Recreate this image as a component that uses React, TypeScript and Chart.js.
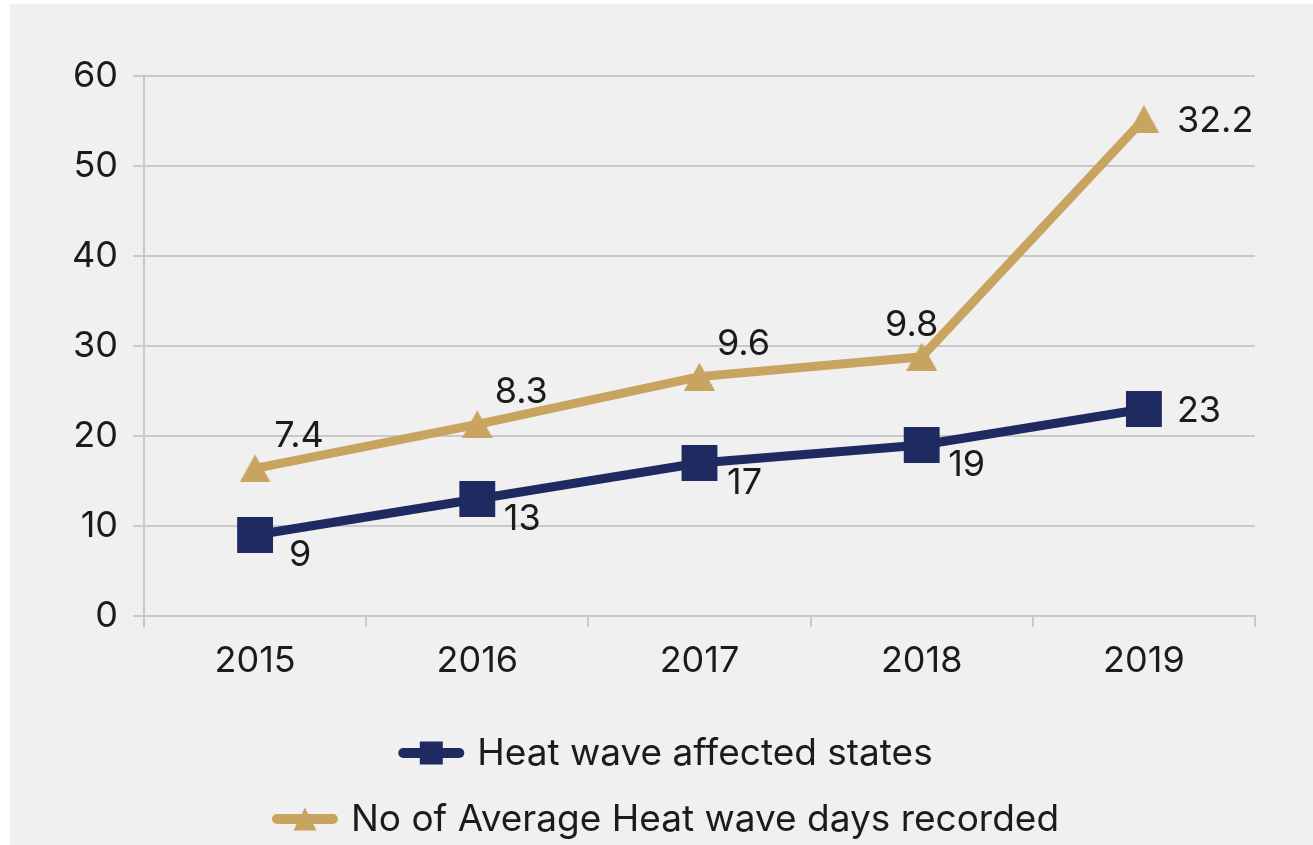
import React, { useEffect, useRef } from 'react';
import { Chart, registerables } from 'chart.js';

Chart.register(...registerables);

// ---- data ----
const years = ['2015', '2016', '2017', '2018', '2019'];
const affectedStates = [9, 13, 17, 19, 23];
const heatWaveDays = [7.4, 8.3, 9.6, 9.8, 32.2];
const seriesNames = ['Heat wave affected states', 'No of Average Heat wave days recorded'];
const yTickValues = [0, 10, 20, 30, 40, 50, 60];

// label placement names (no coordinates)
const affectedPlacement = ['belowRight', 'belowRight', 'belowRight', 'belowRight', 'right'];
const daysPlacement = ['aboveRight', 'aboveRight', 'aboveRight', 'above', 'right'];

const NAVY = '#1f2a60';
const GOLD = '#c9a461';
const GRID = '#c9c9c9';
const TEXT = '#1b1b1b';
const FONT = 'Inter, Lato, sans-serif';

const OFFSETS: Record<string, [number, number, CanvasTextAlign]> = {
  aboveRight: [44, -32, 'center'],
  belowRight: [45, 20, 'center'],
  above: [-10, -32, 'center'],
  right: [33, 2, 'left'],
};

function makeTriangle(w: number, h: number, color: string): HTMLCanvasElement {
  const c = document.createElement('canvas');
  c.width = w;
  c.height = h;
  const g = c.getContext('2d')!;
  g.fillStyle = color;
  g.beginPath();
  g.moveTo(w / 2, 0);
  g.lineTo(w, h);
  g.lineTo(0, h);
  g.closePath();
  g.fill();
  return c;
}

const dataLabelPlugin = {
  id: 'dataLabels',
  afterDatasetsDraw(chart: any) {
    const ctx = chart.ctx;
    ctx.save();
    ctx.font = `36px ${FONT}`;
    ctx.fillStyle = TEXT;
    ctx.textBaseline = 'middle';
    chart.data.datasets.forEach((ds: any, di: number) => {
      const meta = chart.getDatasetMeta(di);
      const placements = ds.placements as string[];
      meta.data.forEach((pt: any, i: number) => {
        const [dx, dy, align] = OFFSETS[placements[i]];
        ctx.textAlign = align;
        ctx.fillText(String(ds.data[i]), pt.x + dx, pt.y + dy);
      });
    });
    ctx.restore();
  },
};

function drawMarker(ctx: CanvasRenderingContext2D, style: string, x: number, y: number, size: number, color: string) {
  ctx.fillStyle = color;
  ctx.beginPath();
  if (style === 'rect') {
    ctx.rect(x - size / 2, y - size / 2, size, size);
  } else {
    const h = size;
    ctx.moveTo(x, y - h / 2);
    ctx.lineTo(x + size / 2, y + h / 2);
    ctx.lineTo(x - size / 2, y + h / 2);
    ctx.closePath();
  }
  ctx.fill();
}

const legendPlugin = {
  id: 'customLegend',
  afterDraw(chart: any) {
    const ctx: CanvasRenderingContext2D = chart.ctx;
    const cx = chart.width / 2 + 4;
    const rowY = [749, 815];
    const lineLen = 66;
    const gap = 13;
    ctx.save();
    ctx.font = `37px ${FONT}`;
    ctx.textBaseline = 'middle';
    ctx.textAlign = 'left';
    chart.data.datasets.forEach((ds: any, di: number) => {
      const tw = ctx.measureText(ds.label).width;
      const total = lineLen + gap + tw;
      const x0 = cx - total / 2;
      const y = rowY[di];
      ctx.strokeStyle = ds.borderColor;
      ctx.lineWidth = 10;
      ctx.lineCap = 'round';
      ctx.beginPath();
      ctx.moveTo(x0 + 5, y);
      ctx.lineTo(x0 + lineLen - 5, y);
      ctx.stroke();
      drawMarker(ctx, ds.legendMarker, x0 + lineLen / 2, y, 23, ds.borderColor);
      ctx.fillStyle = TEXT;
      ctx.fillText(ds.label, x0 + lineLen + gap, y + 1);
    });
    ctx.restore();
  },
};

export default function App() {
  const ref = useRef<HTMLCanvasElement | null>(null);
  useEffect(() => {
    if (!ref.current) return;
    const tri = makeTriangle(31, 28, GOLD);
    const chart = new Chart(ref.current, {
      type: 'line',
      data: {
        labels: years,
        datasets: [
          {
            label: seriesNames[0],
            data: affectedStates,
            borderColor: NAVY,
            backgroundColor: NAVY,
            borderWidth: 9,
            pointStyle: 'rect',
            pointRadius: 19,
            pointHoverRadius: 19,
            fill: false,
            tension: 0,
            placements: affectedPlacement,
            legendMarker: 'rect',
          } as any,
          {
            label: seriesNames[1],
            data: heatWaveDays,
            borderColor: GOLD,
            backgroundColor: GOLD,
            borderWidth: 9,
            pointStyle: tri,
            pointRadius: 15,
            pointHoverRadius: 15,
            fill: false,
            tension: 0,
            placements: daysPlacement,
            legendMarker: 'triangle',
          } as any,
        ],
      },
      options: {
        responsive: false,
        animation: false,
        devicePixelRatio: 1,
        layout: { padding: { left: 0, right: 58, top: 72, bottom: 149 } },
        plugins: {
          legend: { display: false },
          tooltip: { enabled: false },
        },
        scales: {
          x: {
            offset: true,
            grid: {
              display: true,
              drawOnChartArea: false,
              drawTicks: true,
              tickLength: 11,
              color: GRID,
              lineWidth: 2,
              offset: true,
            },
            border: { display: true, color: GRID, width: 2 },
            ticks: { color: TEXT, font: { family: FONT, size: 36 }, padding: 13 },
            afterFit: (s: any) => { s.height = 80; },
          },
          y: {
            stacked: true,
            min: 0,
            max: 60,
            afterBuildTicks: (s: any) => { s.ticks = yTickValues.map((v) => ({ value: v })); },
            grid: { color: GRID, lineWidth: 2, tickLength: 11, drawTicks: true },
            border: { display: true, color: GRID, width: 2 },
            ticks: { color: TEXT, font: { family: FONT, size: 36 }, padding: 15 },
            afterFit: (s: any) => { s.width = 134; },
          },
        },
      },
      plugins: [dataLabelPlugin, legendPlugin],
    });
    return () => chart.destroy();
  }, []);

  return (
    <div style={{ position: 'fixed', left: 0, top: 0, width: 1313, height: 845, background: '#ffffff' }}>
      <div style={{ position: 'absolute', left: 10, top: 4, width: 1303, height: 841, background: '#f0f0f0' }}>
        <canvas ref={ref} width={1303} height={841} style={{ display: 'block' }} />
      </div>
    </div>
  );
}
